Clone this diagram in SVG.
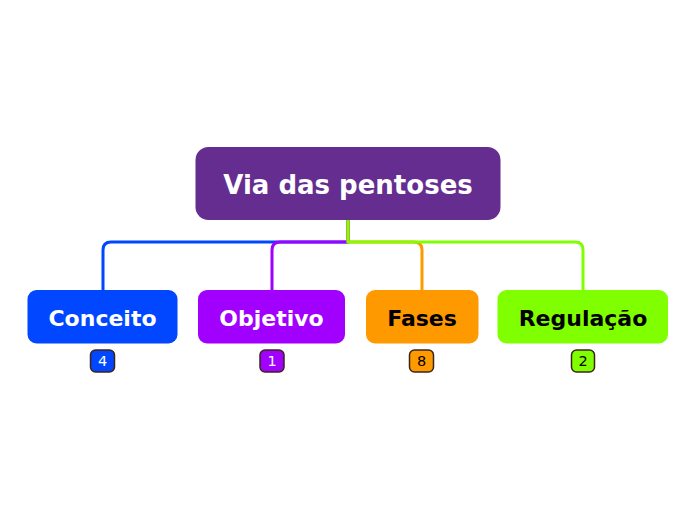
<svg xmlns="http://www.w3.org/2000/svg" width="696" height="520" viewBox="0 0 696 520">
<style>
.c{fill:none;stroke-width:3;stroke-linejoin:round}
.t{font-family:"DejaVu Sans",Verdana,sans-serif;font-weight:bold;text-anchor:middle}
.b{stroke:#3b2418;stroke-width:1.5}
.bt{font-family:"DejaVu Sans",Verdana,sans-serif;font-size:14.5px;text-anchor:middle}
</style>
<rect width="696" height="520" fill="#fff"/>
<g id="connectors">
<path class="c" stroke="#0047ff" d="M348,220 V242 H111 Q103,242 103,250 V290"/>
<path class="c" stroke="#a100ff" d="M348,220 V242 H280 Q272,242 272,250 V290"/>
<path class="c" stroke="#ff9900" d="M348,220 V242 H414 Q422,242 422,250 V290"/>
<path class="c" stroke="#80ff00" d="M348,220 V242 H575 Q583,242 583,250 V290"/>
</g>
<g id="root">
<rect x="195.5" y="147" width="305" height="73" rx="13" fill="#662d91"/>
<text class="t" x="348" y="194" font-size="26" fill="#fff">Via das pentoses</text>
</g>
<g id="conceito">
<rect x="27.5" y="290" width="150" height="53.5" rx="9" fill="#0047ff"/>
<text class="t" x="102.5" y="326" font-size="22" fill="#fff">Conceito</text>
<rect class="b" x="90.5" y="350" width="24" height="22" rx="5" fill="#0047ff"/>
<text class="bt" x="102.5" y="366" fill="#fff">4</text>
</g>
<g id="objetivo">
<rect x="198" y="290" width="147" height="53.5" rx="9" fill="#a100ff"/>
<text class="t" x="271.5" y="326" font-size="22" fill="#fff">Objetivo</text>
<rect class="b" x="260" y="350" width="24" height="22" rx="5" fill="#a100ff"/>
<text class="bt" x="272" y="366" fill="#fff">1</text>
</g>
<g id="fases">
<rect x="366" y="290" width="112.5" height="53.5" rx="9" fill="#ff9900"/>
<text class="t" x="422" y="326" font-size="22" fill="#000">Fases</text>
<rect class="b" x="409.5" y="350" width="24" height="22" rx="5" fill="#ff9900"/>
<text class="bt" x="421.5" y="366" fill="#000">8</text>
</g>
<g id="regulacao">
<rect x="497.5" y="290" width="170.5" height="53.5" rx="9" fill="#80ff00"/>
<text class="t" x="583" y="326" font-size="22" fill="#000">Regulação</text>
<rect class="b" x="571.5" y="350" width="23" height="22" rx="5" fill="#80ff00"/>
<text class="bt" x="583" y="366" fill="#000">2</text>
</g>
</svg>
